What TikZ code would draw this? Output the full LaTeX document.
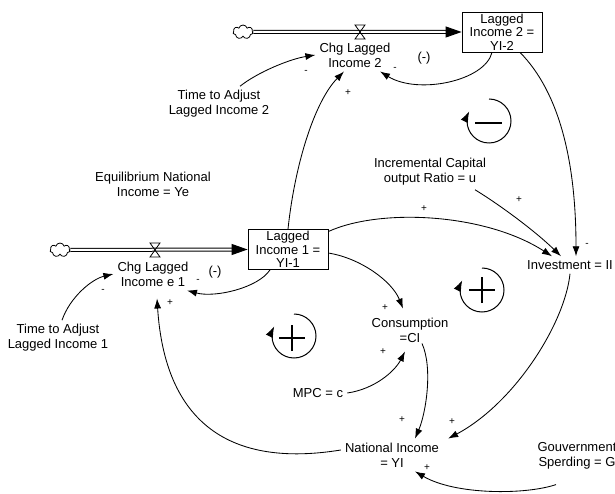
\documentclass[tikz,border=0pt]{standalone}
\usepackage{fontspec}
\setmainfont{Liberation Sans}
\usetikzlibrary{arrows.meta,shapes.symbols}

\tikzset{
  var/.style={align=center, inner sep=4pt, font=\fontsize{13}{15}\selectfont},
  stock/.style={draw, line width=0.8pt, minimum width=80pt, minimum height=40pt,
    align=center, inner sep=1pt, font=\fontsize{13}{13.5}\selectfont},
  sign/.style={inner sep=0pt, font=\fontsize{10}{12}\selectfont},
  link/.style={line width=0.85pt, -{Latex[length=10pt,width=7pt]}},
  pipe/.style={double, double distance=2pt, line width=1pt},
  pipehead/.style={-{Triangle[length=16pt,width=11pt]}, line width=1pt},
  source/.style={cloud, draw, cloud puffs=7, aspect=1.4, minimum width=20pt,
    minimum height=14pt, inner sep=0pt, line width=0.8pt},
  valve/.pic={\draw[line width=0.8pt] (-5,7) -- (5,7) -- (-5,-7) -- (5,-7) -- cycle;},
  loopsym/.pic={\draw[line width=1pt, -{Latex[length=11pt,width=8pt]}]
    (90:22) arc[start angle=90, end angle=-206, radius=22];}
}

\begin{document}
\begin{tikzpicture}[x=1pt,y=1pt]
\useasboundingbox (0,0) rectangle (615,493);

% stocks and their inflows
\node[stock] (li2) at (502,461) {Lagged\\Income 2 =\\YI-2};
\node[stock] (li1) at (288,243.5) {Lagged\\Income 1 =\\YI-1};
\node[source] (srcA) at (243,461) {};
\node[source] (srcB) at (60,243) {};
\draw[pipe] (srcA.east) -- ([xshift=-14pt]li2.west);
\draw[pipe] (srcB.east) -- ([xshift=-14pt]li1.west);
\draw[pipehead] ([xshift=-16pt]li2.west) -- (li2.west);
\draw[pipehead] ([xshift=-16pt]li1.west) -- (li1.west);
\pic at (360,461) {valve};
\pic at (155,243) {valve};

% auxiliaries
\node[var] (chg2) at (355,438) {Chg Lagged\\Income 2};
\node[var] (chg1) at (153,219) {Chg Lagged\\Income e 1};
\node[var] (tadj2) at (219,389) {Time to Adjust\\Lagged Income 2};
\node[var] (tadj1) at (58,155) {Time to Adjust\\Lagged Income 1};
\node[var] (equil) at (153,309) {Equilibrium National\\Income = Ye};
\node[var] (icor) at (430,321) {Incremental Capital\\output Ratio = u};
\node[var] (invest) at (570,228) {Investment = II};
\node[var] (cons) at (410,163) {Consumption\\=CI};
\node[var] (mpc) at (318,100) {MPC = c};
\node[var] (natinc) at (392,38) {National Income\\= YI};
\node[var] (gov) at (577,37) {Gouvernment\\Sperding = G};

% causal links
\draw[link] ([xshift=-10pt]li2.south) .. controls (485,412) and (418,398) .. ([xshift=25pt]chg2.south);
\draw[link] ([xshift=21pt]tadj2.north) .. controls (258,421) and (290,434) .. (chg2.west);
\draw[link] (li1.north) .. controls (295,330) and (315,392) .. ([xshift=-11pt]chg2.south);
\draw[link] (li1.24) .. controls (380,285) and (485,280) .. ([xshift=-18pt]invest.north);
\draw[link] ([xshift=45pt]icor.south) .. controls (500,288) and (535,262) .. ([xshift=-9pt]invest.north);
\draw[link] ([xshift=18pt]li2.south) .. controls (560,400) and (576,330) .. ([xshift=6pt]invest.north);
\draw[link] (li1.-5) .. controls (360,235) and (392,212) .. ([xshift=-7pt,yshift=5pt]cons.north);
\draw[link] (mpc.east) .. controls (375,104) and (395,122) .. ([xshift=-5pt,yshift=-5pt]cons.south);
\draw[link] ([xshift=12pt,yshift=3pt]cons.south) .. controls (433,125) and (426,80) .. ([xshift=23pt]natinc.north);
\draw[link] (invest.south) .. controls (565,170) and (515,90) .. ([xshift=5pt]natinc.north east);
\draw[link] ([xshift=-21pt,yshift=-11pt]gov.south) .. controls (525,-2) and (455,-2) .. ([xshift=23pt]natinc.south);
\draw[link] ([yshift=5pt]natinc.west) .. controls (230,25) and (165,70) .. ([xshift=4pt,yshift=-8pt]chg1.south);
\draw[link] ([xshift=4pt]tadj1.north) .. controls (70,196) and (92,214) .. (chg1.west);
\draw[link] ([xshift=-18pt]li1.south) .. controls (258,205) and (215,195) .. ([xshift=34pt]chg1.south);

% link polarities
\node[var, inner sep=0pt] (negA) at (424,435) {(-)};
\node[var, inner sep=0pt] (negB) at (215,221) {(-)};
\node[sign] (s1) at (395,424) {-};
\node[sign] (s2) at (306,421) {-};
\node[sign] (s3) at (348,400) {+};
\node[sign] (s4) at (424,284) {+};
\node[sign] (s5) at (519,293) {+};
\node[sign] (s6) at (587,248) {-};
\node[sign] (s7) at (198,212) {-};
\node[sign] (s8) at (103,202) {-};
\node[sign] (s9) at (170,190) {+};
\node[sign] (s10) at (385,185) {+};
\node[sign] (s11) at (383,141) {+};
\node[sign] (s12) at (402,73) {+};
\node[sign] (s13) at (452,71) {+};
\node[sign] (s14) at (427,25) {+};

% loop markers
\pic at (489,372) {loopsym};
\draw[line width=1.5pt] (475,370) -- (502,370);
\pic at (482,203) {loopsym};
\draw[line width=1.5pt] (469,203) -- (495,203) (482,190) -- (482,216);
\pic at (294,157) {loopsym};
\draw[line width=1.5pt] (279,155) -- (305,155) (292,142) -- (292,168);
\end{tikzpicture}
\end{document}
